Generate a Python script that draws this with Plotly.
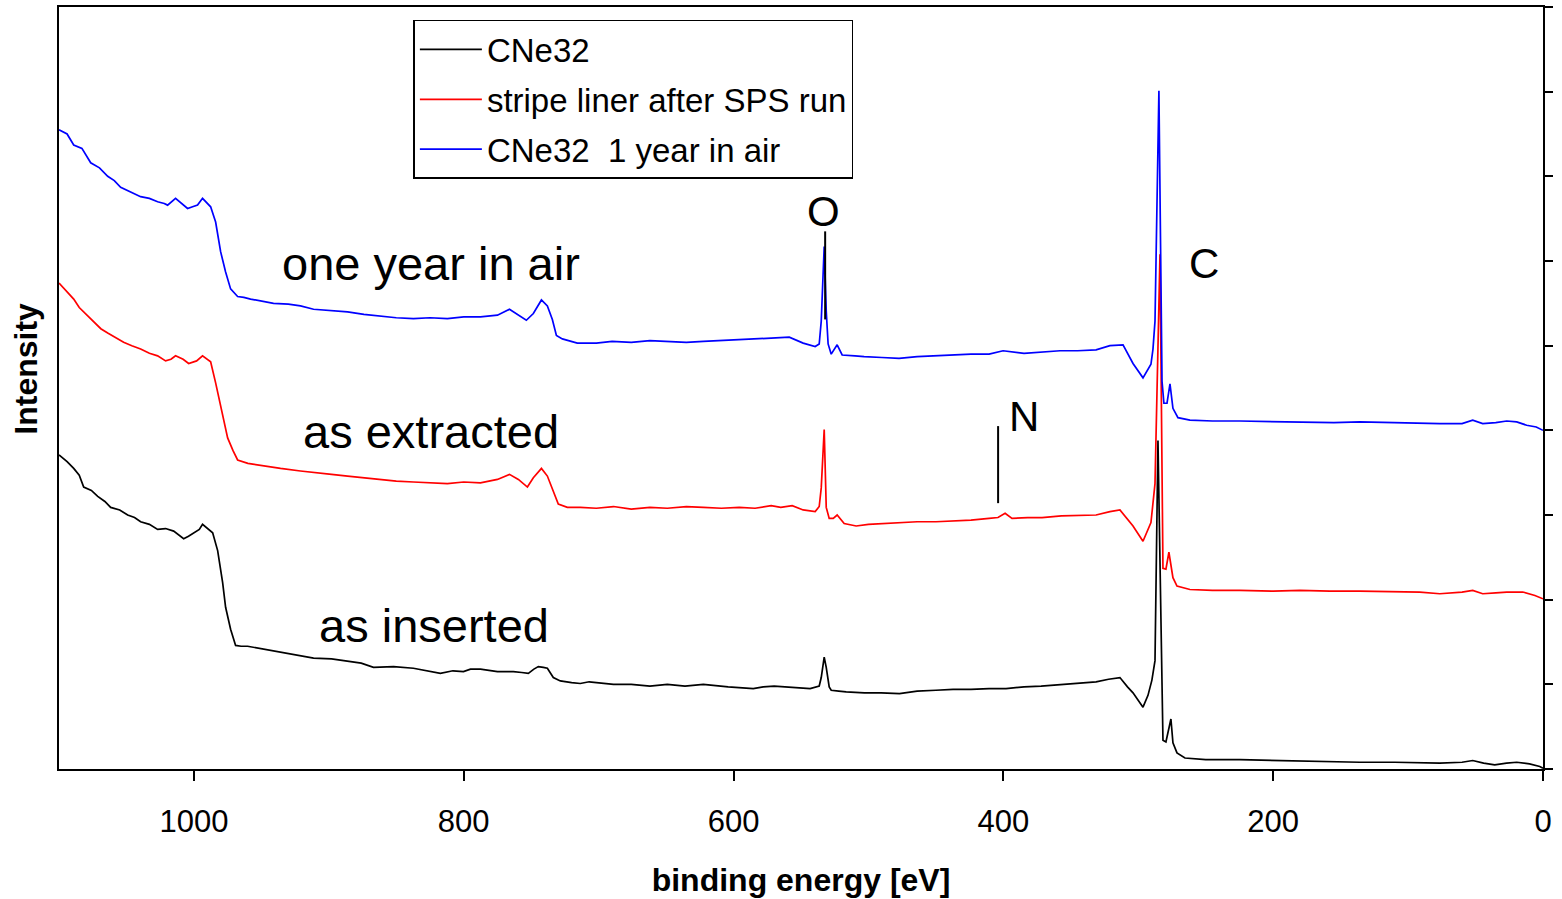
import plotly.graph_objects as go

# ---------------- data ----------------
black_E = [1100, 1094, 1089.1, 1085, 1081.7, 1076, 1071.3, 1066, 1061.7, 1055, 1049.1, 1044, 1039.5, 1033,
           1026.9, 1021, 1015.0, 1011, 1007.6, 1004, 1000.2, 996, 993.6, 990, 986.1, 982.4, 978.7, 976.5,
           972.8, 969.1, 965, 960.2, 950, 941.0, 935.8, 924, 911.3, 898, 886.1, 876, 866.9, 852, 837.3, 827,
           817.3, 808, 800.2, 795, 787.6, 775, 763.2, 757, 752.1, 748, 744.7, 741, 738.0, 733.6, 728.4, 720,
           713.6, 707, 701.7, 689, 675.8, 662, 649.1, 636, 622.4, 604, 585.4, 578, 569.9, 556, 543.2, 536.5,
           535.0, 532.8, 531.3, 529.1, 527.6, 522, 516.5, 503, 490.6, 477, 463.9, 450, 437.3, 424, 410.6, 398,
           384.7, 372, 358.0, 345, 331.3, 322, 313.6, 308, 303.9, 296.5, 292.8, 289.9, 287.6, 285.4, 281.7,
           279.5, 275.8, 274.3, 271.3, 265.4, 250, 224.7, 200, 180.2, 158, 135.8, 110, 90, 76.5, 60, 52.1, 44,
           35.8, 27, 19.5, 10, 2.4, 0]
black_I = [3.71, 3.63, 3.55, 3.47, 3.33, 3.29, 3.22, 3.16, 3.09, 3.06, 3.00, 2.97, 2.92, 2.89,
           2.83, 2.84, 2.81, 2.76, 2.72, 2.75, 2.79, 2.83, 2.89, 2.84, 2.79, 2.58, 2.20, 1.91,
           1.65, 1.46, 1.45, 1.45, 1.42, 1.40, 1.38, 1.35, 1.31, 1.30, 1.27, 1.25, 1.20, 1.21, 1.19, 1.16,
           1.13, 1.16, 1.15, 1.18, 1.18, 1.15, 1.15, 1.14, 1.13, 1.18, 1.21, 1.20, 1.19, 1.08, 1.04, 1.02,
           1.01, 1.03, 1.02, 1.00, 1.00, 0.98, 1.00, 0.98, 1.00, 0.97, 0.95, 0.97, 0.98, 0.96, 0.95, 0.98,
           1.08, 1.32, 1.20, 0.97, 0.93, 0.92, 0.91, 0.90, 0.90, 0.89, 0.92, 0.93, 0.94, 0.94, 0.95, 0.95,
           0.97, 0.98, 1.00, 1.01, 1.03, 1.06, 1.08, 0.97, 0.90, 0.73, 0.87, 1.05, 1.28, 3.88, 0.34,
           0.32, 0.59, 0.31, 0.19, 0.13, 0.11, 0.11, 0.10, 0.10, 0.09, 0.08, 0.08, 0.07, 0.07, 0.08, 0.10, 0.07,
           0.05, 0.07, 0.08, 0.06, 0.03, 0.01]

red_E = [1100, 1094, 1089.1, 1085, 1081.7, 1074.3, 1069, 1063.9, 1058, 1052.1, 1046, 1039.5, 1033, 1026.9,
         1021.0, 1017, 1013.6, 1008, 1003.9, 998, 993.6, 987.6, 983.9, 978.7, 975.0, 971, 967.6, 960, 952.8,
         944, 935.8, 921.0, 911.3, 898, 886.1, 874, 861.7, 850, 837.3, 825, 812.1, 800, 787.6, 775.0, 766.1,
         759.5, 752.8, 748.4, 742.4, 738.0, 734.3, 729.9, 723.2, 713.6, 701.7, 689, 675.8, 662, 649.1, 635,
         622.4, 609, 595.8, 584, 572.1, 565, 556.5, 548.4, 539.5, 536.5, 535.0, 532.8, 531.3, 529.1, 526.1,
         523.2, 518.0, 509.1, 500, 490.6, 477, 463.9, 450, 437.3, 424, 410.6, 404, 398.7, 393.6, 382, 371.3,
         357, 342.4, 331.3, 321, 313.6, 303.9, 296.5, 290.6, 287.6, 283.9, 281.7, 279.5, 277.3, 274.3, 271.3,
         261.7, 245, 224.7, 200, 180.2, 158, 135.8, 110, 91.3, 76.5, 60, 52.1, 44.7, 35, 26.9, 15.0, 6, 0]
red_I = [5.74, 5.64, 5.55, 5.45, 5.40, 5.28, 5.20, 5.15, 5.09, 5.04, 5.00, 4.96, 4.91, 4.88,
         4.82, 4.84, 4.88, 4.84, 4.79, 4.82, 4.88, 4.81, 4.56, 4.18, 3.91, 3.76, 3.65, 3.61, 3.59,
         3.57, 3.55, 3.52, 3.50, 3.48, 3.46, 3.44, 3.42, 3.40, 3.39, 3.38, 3.37, 3.39, 3.38, 3.42, 3.48,
         3.42, 3.33, 3.44, 3.55, 3.46, 3.31, 3.13, 3.09, 3.09, 3.08, 3.10, 3.07, 3.09, 3.08, 3.10,
         3.09, 3.08, 3.09, 3.08, 3.11, 3.09, 3.11, 3.06, 3.04, 3.10, 3.32, 4.01, 3.09, 2.96, 2.96,
         3.00, 2.90, 2.87, 2.89, 2.90, 2.91, 2.92, 2.92, 2.93, 2.94, 2.96, 2.97, 3.02, 2.96, 2.97, 2.97,
         2.99, 3.00, 3.00, 3.04, 3.06, 2.87, 2.69, 2.91, 3.37, 6.08, 2.37, 2.36, 2.56, 2.26, 2.16,
         2.12, 2.11, 2.11, 2.10, 2.11, 2.10, 2.10, 2.09, 2.09, 2.07, 2.09, 2.11, 2.07, 2.08, 2.09, 2.09, 2.05, 2.01]

blue_E = [1100, 1094, 1089.1, 1083, 1076.5, 1070, 1063.9, 1059, 1054.3, 1047, 1039.5, 1033, 1026.9, 1022,
          1019.5, 1013.6, 1009, 1004.7, 1001, 997.3, 993.6, 987.6, 983.9, 980.2, 976.5, 972.8, 967.6, 963,
          958.0, 950, 941.0, 930, 921.0, 911.3, 900, 886.1, 874, 861.7, 850, 837.3, 825, 812.1, 800, 787.6,
          775.0, 766.1, 759.5, 753.6, 748.4, 742.4, 738.0, 734.3, 731.3, 726.9, 715.8, 701.7, 690, 675.8, 662,
          649.1, 635, 622.4, 609, 595.8, 580.2, 568, 558.7, 548.4, 539.5, 536.5, 535.0, 532.8, 531.3, 529.9,
          527.6, 523.2, 519.5, 510, 503.2, 490, 477.3, 463.9, 450, 437.3, 424, 410.6, 400.2, 384.7, 370,
          358.0, 345, 331.3, 321.0, 311.3, 303.9, 296.5, 290.6, 289.1, 287.6, 284.7, 282.4, 281.0, 278.7,
          276.5, 274.3, 270.6, 261.7, 245, 224.7, 200, 180.2, 155, 135.8, 110, 91.3, 76.5, 60, 52.1, 44.7, 35,
          26.9, 19.5, 12.1, 5, 0]
blue_I = [7.55, 7.50, 7.37, 7.33, 7.16, 7.10, 7.00, 6.95, 6.87, 6.82, 6.76, 6.74, 6.70, 6.68,
          6.66, 6.74, 6.68, 6.62, 6.64, 6.66, 6.74, 6.64, 6.46, 6.11, 5.87, 5.67, 5.58, 5.57,
          5.55, 5.53, 5.50, 5.49, 5.47, 5.43, 5.42, 5.40, 5.37, 5.35, 5.33, 5.32, 5.33, 5.32, 5.34, 5.34,
          5.36, 5.43, 5.36, 5.30, 5.38, 5.54, 5.47, 5.31, 5.12, 5.08, 5.03, 5.03, 5.05, 5.04, 5.06,
          5.05, 5.04, 5.05, 5.06, 5.07, 5.08, 5.09, 5.10, 5.03, 4.99, 5.02, 5.29, 6.17, 5.41, 5.02,
          4.90, 5.01, 4.89, 4.88, 4.87, 4.86, 4.85, 4.87, 4.88, 4.89, 4.90, 4.90, 4.94, 4.91, 4.93,
          4.94, 4.94, 4.95, 5.00, 5.01, 4.79, 4.62, 4.78, 4.96, 5.29, 8.01, 4.58, 4.32, 4.32,
          4.55, 4.26, 4.15, 4.12, 4.11, 4.11, 4.10, 4.10, 4.09, 4.10, 4.09, 4.09, 4.08, 4.08, 4.12, 4.08, 4.09,
          4.11, 4.10, 4.06, 4.04, 4.00]

series_names = ["CNe32", "stripe liner after SPS run", "CNe32  1 year in air"]
series_colors = ["#000000", "#FF0000", "#0000FF"]

# text labels: (text, energy, intensity, font size)
labels = [("one year in air", 824, 5.97, 47),
          ("as extracted", 824.5, 3.99, 47),
          ("as inserted", 822, 1.70, 47),
          ("O", 533, 6.58, 42),
          ("C", 251.5, 5.97, 42),
          ("N", 384.7, 4.16, 42)]
# peak marker bars: (energy, intensity low, intensity high)
peak_bars = [(532.1, 5.31, 6.35), (403.9, 3.14, 4.05)]

FONT = "Liberation Sans, Arial, sans-serif"

fig = go.Figure()
for i, (E, I) in enumerate([(black_E, black_I), (red_E, red_I), (blue_E, blue_I)]):
    fig.add_trace(go.Scatter(x=E, y=I, mode="lines", name=series_names[i],
                             legendgroup=f"g{i}",
                             line=dict(color=series_colors[i], width=1.7)))

for text, ex, iy, fs in labels:
    fig.add_annotation(x=ex, y=iy, xref="x", yref="y", text=text, showarrow=False,
                       font=dict(family=FONT, size=fs, color="black"),
                       xanchor="center", yanchor="middle")

for ex, lo, hi in peak_bars:
    fig.add_shape(type="line", xref="x", yref="y", x0=ex, x1=ex, y0=lo, y1=hi,
                  line=dict(color="black", width=2))

fig.add_annotation(x=-0.0224, y=0.525, xref="paper", yref="paper", text="<b>Intensity</b>",
                   textangle=-90, showarrow=False, font=dict(family=FONT, size=32, color="black"),
                   xanchor="center", yanchor="middle")

fig.update_layout(
    width=1562, height=899,
    margin=dict(l=59, r=19, t=5, b=130),
    paper_bgcolor="white", plot_bgcolor="white",
    font=dict(family=FONT, color="black"),
    showlegend=True,
    legend=dict(x=0.2388, y=0.983, xanchor="left", yanchor="top",
                bgcolor="white", bordercolor="black", borderwidth=1.5,
                font=dict(family=FONT, size=33, color="black"),
                itemwidth=62,
                tracegroupgap=4, traceorder="grouped"),
    xaxis=dict(range=[1100, 0], tickvals=[1000, 800, 600, 400, 200, 0],
               ticks="outside", ticklen=10, tickwidth=1.5, tickcolor="black",
               showline=True, linecolor="black", linewidth=2, mirror=True,
               showgrid=False, zeroline=False,
               tickfont=dict(family=FONT, size=31, color="black"),
               ticklabelstandoff=14,
               title=dict(text="<b>binding energy [eV]</b>", standoff=30,
                          font=dict(family=FONT, size=32, color="black"))),
    yaxis=dict(range=[0, 9], dtick=1, tick0=0, side="right",
               ticks="outside", ticklen=8, tickwidth=1.5, tickcolor="black",
               showticklabels=False,
               showline=True, linecolor="black", linewidth=2, mirror=True,
               showgrid=False, zeroline=False),
)

fig.write_html("out.html")
